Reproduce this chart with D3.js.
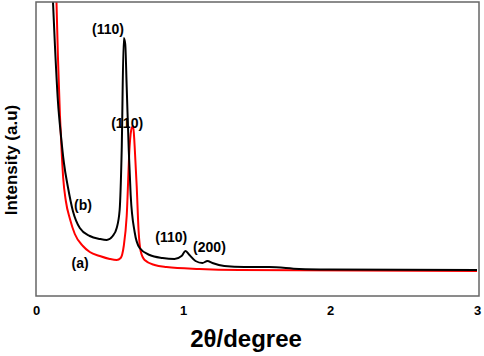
<!DOCTYPE html>
<html>
<head>
<meta charset="utf-8">
<script src="https://cdn.jsdelivr.net/npm/d3@7"></script>
<style>
  body { margin: 0; background: #fff; }
  svg { display: block; font-family: "Liberation Sans", Arial, sans-serif; }
</style>
</head>
<body>
<svg id="chart" width="484" height="356"></svg>
<script>
// 2theta (degree) values and intensities (a.u.)
const xTicks = [0, 1, 2, 3];

const curveB_x = [0.095, 0.115, 0.129, 0.149, 0.170, 0.190, 0.217, 0.251, 0.298, 0.366, 0.434, 0.481,
  0.522, 0.549, 0.569, 0.583, 0.597, 0.607, 0.617, 0.631, 0.644, 0.671, 0.705, 0.773, 0.861,
  0.942, 0.990, 1.017, 1.044, 1.085, 1.132, 1.166, 1.200, 1.281, 1.417, 1.586, 1.790, 1.993, 3.0];
const curveB_y = [360, 296, 250, 195, 160, 133, 109, 85, 68, 60, 57, 56,
  60, 68, 86, 146, 258, 252, 209, 146, 101, 64, 48, 41, 38,
  37, 40, 45, 41, 35, 33, 35, 33, 30, 29, 29, 27, 26.5, 26];

const curveA_x = [0.119, 0.139, 0.149, 0.163, 0.176, 0.185, 0.203, 0.231, 0.264, 0.319, 0.366, 0.434, 0.502, 0.549,
  0.576, 0.597, 0.617, 0.637, 0.651, 0.661, 0.671, 0.685, 0.698, 0.712, 0.739, 0.807, 0.888,
  1.112, 1.383, 3.0];
const curveA_y = [360, 296, 240, 180, 140, 118, 95, 77, 62, 50, 44, 40, 37, 36,
  38, 50, 80, 150, 168, 170, 150, 110, 65, 45, 36, 31, 29,
  27, 26, 25];

const peakLabels = ["(110)", "(110)", "(b)", "(a)", "(110)", "(200)"];
const labelX = [0.49, 0.62, 0.32, 0.30, 0.92, 1.18];
const labelY = [267, 173, 91, 33, 59, 49];

const svg = d3.select("#chart");
const margin = { top: 2, right: 5, bottom: 60, left: 36 };
const width = 484 - margin.left - margin.right;
const height = 356 - margin.top - margin.bottom;

const x = d3.scaleLinear().domain([0, 3]).range([0, width - 2]);
const y = d3.scaleLinear().domain([0, 294]).range([height, 0]);

const g = svg.append("g").attr("transform", `translate(${margin.left},${margin.top})`);

g.append("clipPath").attr("id", "clip")
  .append("rect").attr("width", width).attr("height", height);

const line = d3.line().x(d => x(d[0])).y(d => y(d[1])).curve(d3.curveMonotoneX);

const seriesA = curveA_x.map((v, i) => [v, curveA_y[i]]);
const seriesB = curveB_x.map((v, i) => [v, curveB_y[i]]);

const plot = g.append("g").attr("clip-path", "url(#clip)");
plot.append("path").datum(seriesA)
  .attr("d", line).attr("fill", "none").attr("stroke", "#ff0000").attr("stroke-width", 2);
plot.append("path").datum(seriesB)
  .attr("d", line).attr("fill", "none").attr("stroke", "#000").attr("stroke-width", 2);

// frame
g.append("rect").attr("width", width).attr("height", height)
  .attr("fill", "none").attr("stroke", "#666").attr("stroke-width", 1.5);

// x axis labels
const xAxis = g.append("g").attr("transform", `translate(0,${height})`)
  .call(d3.axisBottom(x).tickValues(xTicks).tickSize(0).tickPadding(10).tickFormat(d3.format("d")));
xAxis.select(".domain").remove();
xAxis.selectAll("text").style("font-size", "13px").style("font-weight", "bold").attr("fill", "#000");

// peak labels
g.selectAll(".peak")
  .data(peakLabels)
  .enter()
  .append("text")
  .attr("x", (d, i) => x(labelX[i]))
  .attr("y", (d, i) => y(labelY[i]))
  .attr("dy", "0.35em")
  .attr("text-anchor", "middle")
  .style("font-size", "14px")
  .style("font-weight", "bold")
  .text(d => d);

svg.append("text")
  .attr("x", 246).attr("y", 347)
  .attr("text-anchor", "middle")
  .style("font-size", "24px").style("font-weight", "bold")
  .text("2θ/degree");

svg.append("text")
  .attr("transform", "translate(17,160) rotate(-90)")
  .attr("text-anchor", "middle")
  .style("font-size", "17px").style("font-weight", "bold")
  .text("Intensity (a.u)");
</script>
</body>
</html>
